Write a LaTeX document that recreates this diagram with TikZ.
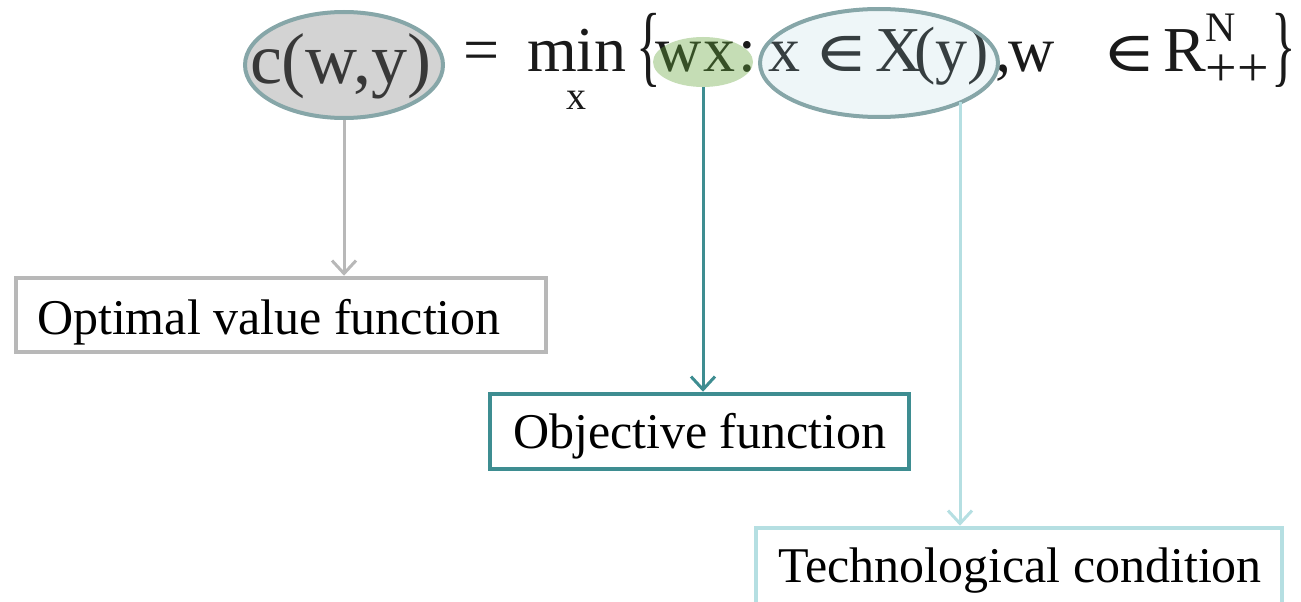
\documentclass[tikz,border=0pt]{standalone}
\usepackage{fontspec}
\setmainfont{Liberation Serif}
\newfontfamily\symfnt{DejaVu Serif}
\usetikzlibrary{shapes.geometric,arrows.meta,calc}
\definecolor{txt}{HTML}{1A1A1A}
\definecolor{ringc}{HTML}{86A6A8}
\definecolor{fillA}{RGB}{120,120,120}
\definecolor{fillG}{RGB}{102,166,60}
\definecolor{fillB}{RGB}{170,210,220}
\definecolor{grayc}{HTML}{B8B8B8}
\definecolor{tealc}{HTML}{3E8D91}
\definecolor{lblue}{HTML}{B5DFE2}
\newcommand\setfs[1]{\fontsize{#1}{#1}\selectfont}
\newcommand\elem{{\symfnt\setfs{56}\scalebox{1.3}[1]{∈}}}
\begin{document}
\begin{tikzpicture}[x=1pt,y=-1pt,
  tok/.style={anchor=base west,inner sep=0pt,outer sep=0pt,text=txt,font=\setfs{64}},
  ring/.style={ellipse,draw=ringc,line width=4pt,inner sep=0pt},
  conn/.style={line width=3pt,-{Straight Barb[length=13pt,width=24pt]}},
  lbox/.style={draw,line width=4.5pt,inner ysep=0pt,font=\setfs{50},text=black,fill=white}]
\useasboundingbox (0,0) rectangle (1301,602);
% formula
\node[tok,font=\setfs{72}] (f1) at (250,84) {c(w,y)};
\node[tok] (f2) at (463,72) {=};
\node[tok] (f3) at (527,72) {min\llap{\makebox[99.6pt][c]{\raisebox{-38pt}{\setfs{40}x}}}};
\node[tok] (f4) at (636,76) {\makebox[18pt][l]{\scalebox{0.8}[1.4]{\{}}};
\node[tok] (f5) at (655,72) {w};
\node[tok] (f6) at (703,72) {x};
\node[tok] (f7) at (738,72) {:};
\node[tok] (f8) at (768,72) {x};
\node[tok] (f9) at (814,72) {\elem};
\node[tok] (f10) at (875,72) {X};
\node[tok] (f11) at (914,72) {(y)};
\node[tok] (f12) at (995,72) {,};
\node[tok] (f13) at (1008,72) {w};
\node[tok] (f14) at (1102,72) {\elem};
\node[tok] (f15) at (1163,72) {R\rlap{\raisebox{30pt}{\setfs{42}N}}\raisebox{-14pt}{\setfs{56}++}};
\node[tok] (f18) at (1271,76) {\makebox[24pt][l]{\scalebox{0.8}[1.4]{\}}}};
% highlight ellipses
\node[ring,fill=fillA,fill opacity=0.33,minimum width=198pt,minimum height=106pt] (e1) at (344,65) {};
\node[ellipse,inner sep=0pt,fill=fillG,fill opacity=0.38,minimum width=100pt,minimum height=50pt] (e2) at (703,62) {};
\node[ring,fill=fillB,fill opacity=0.2,minimum width=238pt,minimum height=108pt] (e3) at (879,63) {};
% boxes
\node[lbox,draw=grayc,minimum width=530pt,minimum height=74pt,inner xsep=21pt,text height=45pt,text depth=7pt] (b1) at (281,315) {\makebox[488pt][l]{Optimal value function}};
\node[lbox,draw=tealc,minimum width=419pt,minimum height=75pt,inner xsep=23pt,text height=40pt,text depth=7pt] (b2) at (699.5,431.5) {\makebox[373pt][l]{Objective function}};
\node[lbox,draw=lblue,minimum width=526pt,minimum height=76pt,inner xsep=22pt,text height=39pt,text depth=7pt] (b3) at (1019,566) {\makebox[482pt][l]{Technological condition}};
% connectors
\coordinate (e3p) at ($(e3.center)+(81,39)$);
\draw[conn,grayc] (e1.south) -- (e1.south |- b1.north);
\draw[conn,tealc] (e2.south) -- (e2.south |- b2.north);
\draw[conn,lblue] (e3p) -- (e3p |- b3.north);
\end{tikzpicture}
\end{document}
